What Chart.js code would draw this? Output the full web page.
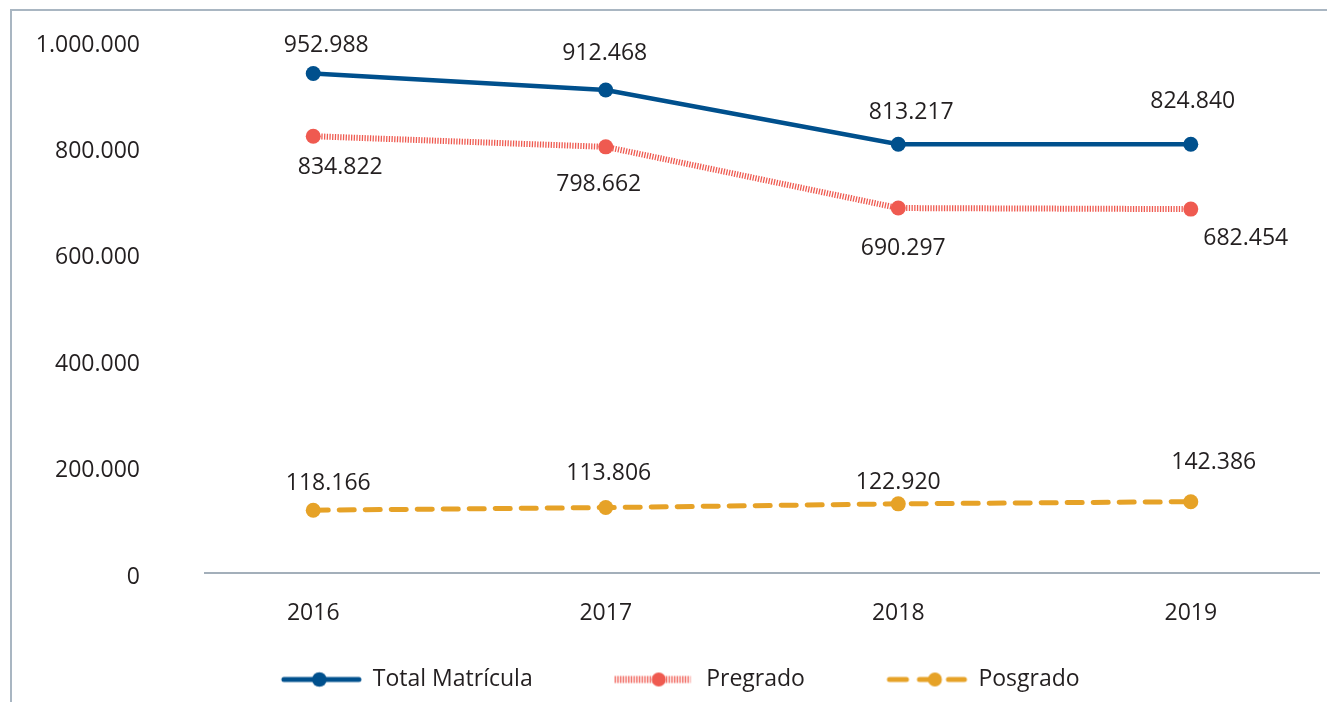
<!DOCTYPE html>
<html>
<head>
<meta charset="utf-8">
<script src="https://cdn.jsdelivr.net/npm/chart.js@4.4.1/dist/chart.umd.min.js"></script>
<style>
  html, body { margin: 0; padding: 0; background: #ffffff; }
  #wrap { position: relative; width: 1327px; height: 702px; overflow: hidden; }
  #frame { position: absolute; left: 10px; top: 9px; right: -5px; bottom: -5px;
           border-top: 2px solid #a9b6c2; border-left: 2px solid #a9b6c2; pointer-events: none; }
  canvas { position: absolute; left: 0; top: 0; }
</style>
</head>
<body>
<div id="wrap">
  <canvas id="chart" width="1327" height="702"></canvas>
  <div id="frame"></div>
</div>
<script>
// ---- data ----
const categories = ['2016', '2017', '2018', '2019'];
const seriesNames = ['Total Matrícula', 'Pregrado', 'Posgrado'];
const totalValues = [939000, 908000, 806000, 806000];
const pregradoValues = [821000, 801000, 686000, 684000];
const posgradoValues = [118000, 123000, 130000, 134000];
const totalLabels = ['952.988', '912.468', '813.217', '824.840'];
const pregradoLabels = ['834.822', '798.662', '690.297', '682.454'];
const posgradoLabels = ['118.166', '113.806', '122.920', '142.386'];
const yTickValues = [0, 200000, 400000, 600000, 800000, 1000000];
const yTickLabels = ['0', '200.000', '400.000', '600.000', '800.000', '1.000.000'];

// ---- styling ----
const TEXT = '#231f20';
const FONT = '"Open Sans", "Noto Sans", sans-serif';
const BLUE = '#00508d';
const RED = '#ef5a50';
const GOLD = '#e6a227';
const LEG_BOX = 121;
const ICON_W = 2 * LEG_BOX;
// label offsets (px) relative to each point, per series
const labelOffsets = [
  [[13, -28], [-1, -36], [13, -32], [2, -43]],
  [[27, 31], [-7, 38], [5, 40], [55, 29]],
  [[15, -27], [3, -34], [0, -21], [23, -39]]
];
const pointLabels = [totalLabels, pregradoLabels, posgradoLabels];

function makeIcon(kind) {
  const c = document.createElement('canvas');
  c.width = ICON_W; c.height = 22;
  const g = c.getContext('2d');
  // image is centred on the legend box centre; the icon ends at the box's right edge
  const o = ICON_W / 2 + LEG_BOX / 2 - 80;
  const cy = 11;
  if (kind === 0) {
    g.strokeStyle = BLUE; g.lineWidth = 5; g.lineCap = 'round';
    g.beginPath(); g.moveTo(o + 2.5, cy); g.lineTo(o + 77.5, cy); g.stroke();
    g.fillStyle = BLUE; g.beginPath(); g.arc(o + 38, cy, 7.3, 0, Math.PI * 2); g.fill();
  } else if (kind === 1) {
    g.strokeStyle = RED; g.lineWidth = 7; g.lineCap = 'butt';
    g.setLineDash([1.3, 1.4]);
    g.beginPath(); g.moveTo(o, cy); g.lineTo(o + 76, cy); g.stroke();
    g.setLineDash([]);
    g.fillStyle = RED; g.beginPath(); g.arc(o + 44, cy, 7, 0, Math.PI * 2); g.fill();
  } else {
    g.strokeStyle = GOLD; g.lineWidth = 5; g.lineCap = 'round';
    [[2.5, 19.5], [32.5, 48.5], [61.5, 77.5]].forEach(s => {
      g.beginPath(); g.moveTo(o + s[0], cy); g.lineTo(o + s[1], cy); g.stroke();
    });
    g.fillStyle = GOLD; g.beginPath(); g.arc(o + 48, cy, 7, 0, Math.PI * 2); g.fill();
  }
  return c;
}
const icons = [makeIcon(0), makeIcon(1), makeIcon(2)];

const toXY = vals => vals.map((v, i) => ({ x: i, y: v }));

const valueLabelsPlugin = {
  id: 'valueLabels',
  afterDatasetsDraw(chart) {
    const ctx = chart.ctx;
    ctx.save();
    ctx.font = '23px ' + FONT;
    ctx.fillStyle = TEXT;
    ctx.textAlign = 'center';
    ctx.textBaseline = 'middle';
    chart.data.datasets.forEach((ds, di) => {
      const meta = chart.getDatasetMeta(di);
      meta.data.forEach((pt, i) => {
        const off = labelOffsets[di][i];
        ctx.fillText(pointLabels[di][i], pt.x + off[0], pt.y + off[1]);
      });
    });
    ctx.restore();
  }
};

new Chart(document.getElementById('chart'), {
  type: 'line',
  data: {
    datasets: [
      {
        label: seriesNames[0], data: toXY(totalValues),
        borderColor: BLUE, backgroundColor: BLUE, borderWidth: 4.5,
        pointRadius: 7.5, pointBorderWidth: 0, pointBackgroundColor: BLUE,
        tension: 0, fill: false
      },
      {
        label: seriesNames[1], data: toXY(pregradoValues),
        borderColor: RED, backgroundColor: RED, borderWidth: 6,
        borderDash: [1.3, 1.4], borderCapStyle: 'butt',
        pointRadius: 7.5, pointBorderWidth: 0, pointBackgroundColor: RED,
        tension: 0, fill: false
      },
      {
        label: seriesNames[2], data: toXY(posgradoValues),
        borderColor: GOLD, backgroundColor: GOLD, borderWidth: 5,
        borderDash: [15, 11], borderCapStyle: 'round',
        pointRadius: 7.5, pointBorderWidth: 0, pointBackgroundColor: GOLD,
        tension: 0, fill: false
      }
    ]
  },
  options: {
    responsive: false,
    animation: false,
    layout: { padding: { top: 41, right: 7, bottom: 1, left: 0 } },
    scales: {
      x: {
        type: 'linear',
        min: -0.37, max: 3.44,
        grid: { display: false, drawTicks: false },
        border: { display: true, color: '#a3afba', width: 2 },
        afterBuildTicks: s => { s.ticks = categories.map((c, i) => ({ value: i })); },
        afterFit: s => { s.height = 54; },
        ticks: {
          padding: 27,
          color: TEXT,
          font: { family: FONT, size: 23 },
          callback: v => categories[v]
        }
      },
      y: {
        min: 0, max: 1000000,
        grid: { display: false, drawTicks: false },
        border: { display: false },
        afterBuildTicks: s => { s.ticks = yTickValues.map(v => ({ value: v })); },
        afterFit: s => { s.width = 205; s.paddingTop = 0; s.paddingBottom = 0; },
        ticks: {
          padding: 65,
          labelOffset: 4,
          color: TEXT,
          font: { family: FONT, size: 23 },
          callback: v => yTickLabels[yTickValues.indexOf(v)]
        }
      }
    },
    plugins: {
      tooltip: { enabled: false },
      legend: {
        position: 'bottom',
        align: 'center',
        labels: {
          usePointStyle: true,
          pointStyleWidth: LEG_BOX,
          padding: 41,
          color: TEXT,
          font: { family: FONT, size: 23 },
          generateLabels: chart => chart.data.datasets.map((ds, i) => ({
            text: ds.label,
            pointStyle: icons[i],
            fillStyle: ds.borderColor,
            strokeStyle: ds.borderColor,
            lineWidth: 0,
            fontColor: TEXT,
            hidden: false,
            datasetIndex: i
          }))
        }
      }
    }
  },
  plugins: [valueLabelsPlugin]
});
</script>
</body>
</html>
